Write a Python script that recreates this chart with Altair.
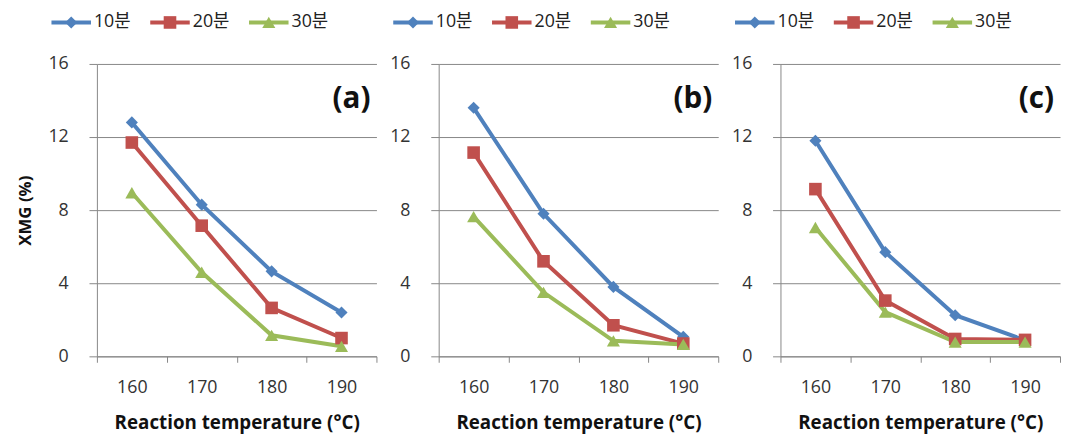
import altair as alt
import pandas as pd

temps = [160, 170, 180, 190]
series = ["10분", "20분", "30분"]
colors = ["#4F81BD", "#C0504D", "#9BBB59"]
shapes = ["diamond", "square", "triangle-up"]
marker_sizes = [150, 175, 175]
panel_labels = ["(a)", "(b)", "(c)"]
y_ticks = [0, 4, 8, 12, 16]

a_10 = [12.8, 8.3, 4.65, 2.4]
a_20 = [11.7, 7.15, 2.65, 1.0]
a_30 = [8.95, 4.6, 1.15, 0.55]
b_10 = [13.6, 7.8, 3.8, 1.07]
b_20 = [11.15, 5.2, 1.7, 0.7]
b_30 = [7.65, 3.5, 0.85, 0.65]
c_10 = [11.8, 5.7, 2.25, 0.88]
c_20 = [9.15, 3.05, 0.95, 0.9]
c_30 = [7.05, 2.42, 0.78, 0.78]

panels_data = [[a_10, a_20, a_30], [b_10, b_20, b_30], [c_10, c_20, c_30]]

W, H = 283, 296
FONT = "Open Sans, Noto Sans CJK KR"
GRID = "#868686"

color_scale = alt.Scale(domain=series, range=colors)
shape_scale = alt.Scale(domain=series, range=shapes)
size_scale = alt.Scale(domain=series, range=marker_sizes)


def panel(vals, label, show_title):
    rows = []
    for s, v in zip(series, vals):
        for t, yv in zip(temps, v):
            rows.append({"temp": t, "series": s, "xmg": yv})
    df = pd.DataFrame(rows)

    x = alt.X(
        "temp:O",
        bandPosition=0.5,
        scale=alt.Scale(type="band", paddingInner=0, paddingOuter=0),
        axis=alt.Axis(
            labelAngle=0, tickBand="extent", grid=False, tickSize=6,
            labelPadding=17, titlePadding=17,
        ),
        title="Reaction temperature (°C)",
    )
    yaxis = alt.Axis(values=y_ticks, grid=True, tickSize=8, labelPadding=21,
                     titlePadding=14)
    y = alt.Y(
        "xmg:Q",
        scale=alt.Scale(domain=[0, 16], nice=False),
        axis=yaxis,
        title="XMG (%)" if show_title else None,
    )
    color = alt.Color("series:N", scale=color_scale, legend=None)

    base = alt.Chart(df)
    lines = base.mark_line(strokeWidth=4).encode(x=x, y=y, color=color)
    points = base.mark_point(filled=True, opacity=1).encode(
        x=x, y=y, color=color,
        shape=alt.Shape("series:N", scale=shape_scale, legend=None),
        size=alt.Size("series:N", scale=size_scale, legend=None),
    )
    layers = [lines, points]

    for i, s in enumerate(series):
        x0 = -46 + 100 * i
        ld = alt.Chart(pd.DataFrame({"series": [s]}))
        layers.append(ld.mark_rule(strokeWidth=4).encode(
            x=alt.value(x0), x2=alt.value(x0 + 40), y=alt.value(-42), color=color))
        layers.append(ld.mark_point(filled=True, opacity=1).encode(
            x=alt.value(x0 + 20), y=alt.value(-42), color=color,
            shape=alt.Shape("series:N", scale=shape_scale, legend=None),
            size=alt.Size("series:N", scale=size_scale, legend=None)))
        layers.append(ld.mark_text(align="left", baseline="middle", font=FONT,
                                   fontSize=18, color="#222").encode(
            x=alt.value(x0 + 43), y=alt.value(-42), text="series:N"))

    lab = alt.Chart(pd.DataFrame({"label": [label]})).mark_text(
        align="right", baseline="middle", font=FONT, fontSize=30,
        fontWeight="bold", color="#111").encode(
        x=alt.value(W - 6), y=alt.value(36), text="label:N")
    layers.append(lab)

    return alt.layer(*layers).properties(width=W, height=H)


charts = [panel(v, l, i == 0) for i, (v, l) in enumerate(zip(panels_data, panel_labels))]

chart = alt.hconcat(*charts, spacing=12).properties(
    padding={"left": 8, "top": 3, "right": 0, "bottom": 0}
).configure_view(stroke=None).configure_axis(
    labelFont=FONT, labelFontSize=18, labelColor="#333",
    titleFont=FONT, titleFontSize=19, titleFontWeight="bold", titleColor="#111",
    domainColor=GRID, tickColor=GRID, gridColor=GRID,
    domainWidth=1, tickWidth=1, gridWidth=1,
).configure_axisY(titleFontSize=17)

chart.save("out.html", embed_options={"renderer": "svg", "actions": False})
